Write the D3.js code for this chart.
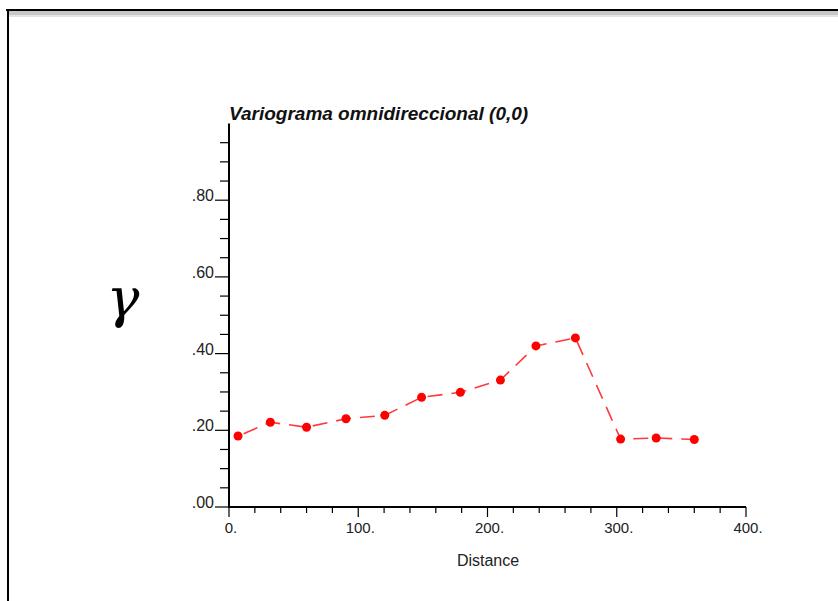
<!DOCTYPE html>
<html><head><meta charset="utf-8">
<script src="https://cdn.jsdelivr.net/npm/d3@7"></script>
<style>body{margin:0;background:#fff;}svg{display:block;}</style>
</head><body>
<script>
const lagDistance = [7, 32, 60, 90.5, 120.5, 149, 179, 210, 237.5, 268, 303, 330.5, 360];
const gammaValues = [0.185, 0.221, 0.208, 0.230, 0.239, 0.286, 0.299, 0.331, 0.420, 0.441, 0.177, 0.180, 0.176];
const xTickValues = [0, 100, 200, 300, 400];
const xTickLabels = ["0.", "100.", "200.", "300.", "400."];
const yTickValues = [0, 0.2, 0.4, 0.6, 0.8];
const yTickLabels = [".00", ".20", ".40", ".60", ".80"];
const titleText = "Variograma omnidireccional (0,0)";
const xLabel = "Distance";
const yLabel = "γ";

const W = 838, H = 601;
const svg = d3.select("body").append("svg").attr("width", W).attr("height", H);

// window frame
svg.append("rect").attr("x", 9).attr("y", 11).attr("width", W).attr("height", 5).attr("fill", "#c8c8c8");
svg.append("rect").attr("x", 9).attr("y", 15).attr("width", W).attr("height", 2).attr("fill", "#e4e4e4");
svg.append("line").attr("x1", 6).attr("x2", W).attr("y1", 10).attr("y2", 10).attr("stroke", "#000").attr("stroke-width", 2);
svg.append("line").attr("x1", 8).attr("x2", 8).attr("y1", 9).attr("y2", H).attr("stroke", "#000").attr("stroke-width", 2);

const x = d3.scaleLinear().domain([0, 400]).range([229, 746]);
const y = d3.scaleLinear().domain([0, 1]).range([507, 123.5]);
const FONT = "Liberation Sans, Arial, sans-serif";

// Y axis
const g = svg.append("g");
g.append("line").attr("x1", x(0)).attr("x2", x(0)).attr("y1", y(1)).attr("y2", y(0) + 1)
  .attr("stroke", "#000").attr("stroke-width", 2);
const yMinor = d3.range(0, 0.96, 0.05);
g.selectAll(".ymin").data(yMinor).join("line")
  .attr("x1", d => Math.abs((d * 5) - Math.round(d * 5)) < 1e-6 ? x(0) - 14 : x(0) - 9)
  .attr("x2", x(0)).attr("y1", d => y(d)).attr("y2", d => y(d))
  .attr("stroke", "#000").attr("stroke-width", 1.2);
g.selectAll(".ylab").data(yTickValues).join("text")
  .attr("x", x(0) - 15).attr("y", d => y(d) + 1)
  .attr("text-anchor", "end")
  .attr("font-family", FONT).attr("font-size", 16).attr("fill", "#222")
  .text((d, i) => yTickLabels[i]);

// X axis
g.append("line").attr("x1", x(0) - 1).attr("x2", x(400)).attr("y1", y(0)).attr("y2", y(0))
  .attr("stroke", "#000").attr("stroke-width", 2);
const xMinor = d3.range(0, 400.001, 20);
g.selectAll(".xmin").data(xMinor).join("line")
  .attr("x1", d => x(d)).attr("x2", d => x(d))
  .attr("y1", y(0)).attr("y2", d => d % 100 === 0 ? y(0) + 10 : y(0) + 6)
  .attr("stroke", "#000").attr("stroke-width", 1.2);
g.selectAll(".xlab").data(xTickValues).join("text")
  .attr("x", d => x(d) + 2).attr("y", y(0) + 26)
  .attr("text-anchor", "middle")
  .attr("font-family", FONT).attr("font-size", 15).attr("fill", "#222")
  .text((d, i) => xTickLabels[i]);

// title and labels
svg.append("text").attr("x", 229).attr("y", 120)
  .attr("font-family", FONT).attr("font-size", 19)
  .attr("font-weight", "bold").attr("font-style", "italic").attr("fill", "#111")
  .text(titleText);
svg.append("text").attr("x", 488).attr("y", 566).attr("text-anchor", "middle")
  .attr("font-family", FONT).attr("font-size", 16).attr("fill", "#222")
  .text(xLabel);
svg.append("text").attr("x", 123).attr("y", 317).attr("text-anchor", "middle")
  .attr("font-family", "DejaVu Serif, serif").attr("font-style", "italic")
  .attr("font-size", 55).attr("fill", "#000")
  .text(yLabel);

// data
const pts = lagDistance.map((d, i) => [d, gammaValues[i]]);
const line = d3.line().x(d => x(d[0])).y(d => y(d[1]));
svg.append("path").attr("d", line(pts)).attr("fill", "none")
  .attr("stroke", "#ff3838").attr("stroke-width", 1.6).attr("stroke-dasharray", "15,9")
  .attr("stroke-dashoffset", -6);
svg.selectAll(".pt").data(pts).join("circle")
  .attr("cx", d => x(d[0])).attr("cy", d => y(d[1])).attr("r", 4.5).attr("fill", "#ff0000");
</script>
</body></html>
